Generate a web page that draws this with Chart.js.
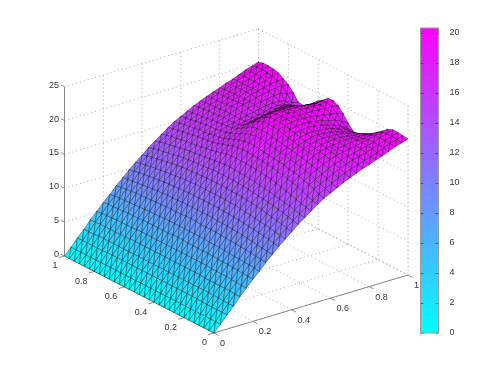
<!DOCTYPE html>
<html>
<head>
<meta charset="utf-8">
<style>
  html, body { margin: 0; padding: 0; background: #fff; }
  #wrap { position: relative; width: 500px; height: 375px; overflow: hidden; }
  canvas { position: absolute; top: 0; }
</style>
<script src="https://cdn.jsdelivr.net/npm/chart.js@4"></script>
</head>
<body>
<div id="wrap">
  <canvas id="surface" width="500" height="375" style="left:0"></canvas>
  <canvas id="colorbar" width="100" height="375" style="left:400px"></canvas>
</div>
<script>
// axis ticks
var xTicks = [0, 0.2, 0.4, 0.6, 0.8, 1];
var yTicks = [0, 0.2, 0.4, 0.6, 0.8, 1];
var zTicks = [0, 5, 10, 15, 20, 25];
var barTicks = [0, 2, 4, 6, 8, 10, 12, 14, 16, 18, 20];
var barMax = 20.33;

// surface heights, one row per x (0..1), one column per y (0..1)
var zRows = [
  [0,0,0,0,0,0,0,0,0,0,0,0,0,0,0,0,0,0,0,0,0,0,0,0,0,0,0,0,0,0,0],
  [1,1,1,1,1,1,1,1,1,1,1,1,1,1,1,1,1,1,1,1,1,1,1,1,1,1,1,1,1,1,1],
  [2.1,2.1,2.1,2.1,2.1,2.1,2.2,2.2,2.2,2.2,2.2,2.2,2.2,2.2,2.2,2.2,2.2,2.2,2.2,2.2,2.2,2.2,2.2,2.2,2.2,2.1,2.1,2.1,2.1,2.1,2.1],
  [3.1,3.1,3.1,3.2,3.2,3.2,3.2,3.2,3.2,3.2,3.2,3.2,3.2,3.2,3.2,3.2,3.2,3.2,3.2,3.2,3.2,3.2,3.2,3.2,3.2,3.2,3.2,3.2,3.1,3.1,3.1],
  [4.2,4.2,4.3,4.3,4.3,4.3,4.3,4.3,4.4,4.4,4.4,4.4,4.4,4.4,4.4,4.4,4.4,4.4,4.4,4.4,4.4,4.4,4.4,4.3,4.3,4.3,4.3,4.3,4.3,4.2,4.2],
  [5.2,5.2,5.3,5.3,5.4,5.4,5.4,5.4,5.5,5.5,5.5,5.5,5.5,5.5,5.5,5.5,5.5,5.5,5.5,5.5,5.5,5.5,5.5,5.4,5.4,5.4,5.4,5.3,5.3,5.2,5.2],
  [6.2,6.3,6.3,6.4,6.4,6.5,6.5,6.5,6.6,6.6,6.6,6.6,6.6,6.6,6.7,6.7,6.7,6.6,6.6,6.6,6.6,6.6,6.6,6.5,6.5,6.5,6.4,6.4,6.3,6.3,6.2],
  [7.1,7.2,7.3,7.3,7.4,7.4,7.5,7.5,7.6,7.6,7.6,7.7,7.7,7.7,7.7,7.7,7.7,7.7,7.7,7.7,7.6,7.6,7.6,7.5,7.5,7.4,7.4,7.3,7.3,7.2,7.1],
  [8.1,8.2,8.3,8.4,8.5,8.5,8.6,8.6,8.7,8.7,8.8,8.8,8.8,8.8,8.9,8.9,8.9,8.8,8.8,8.8,8.8,8.7,8.7,8.6,8.6,8.5,8.5,8.4,8.3,8.2,8.1],
  [9,9.1,9.2,9.3,9.4,9.5,9.6,9.7,9.7,9.8,9.8,9.8,9.9,9.9,9.9,9.9,9.9,9.9,9.9,9.8,9.8,9.8,9.7,9.7,9.6,9.5,9.4,9.3,9.2,9.1,9],
  [9.9,10,10.2,10.3,10.4,10.5,10.6,10.7,10.8,10.8,10.9,10.9,11,11,11,11,11,11,11,10.9,10.9,10.8,10.8,10.7,10.6,10.5,10.4,10.3,10.2,10,9.9],
  [10.7,10.9,11,11.2,11.3,11.4,11.5,11.6,11.7,11.8,11.9,11.9,12,12,12,12,12,12,12,11.9,11.9,11.8,11.7,11.6,11.5,11.4,11.3,11.2,11,10.9,10.7],
  [11.5,11.7,11.9,12,12.2,12.3,12.5,12.6,12.7,12.8,12.8,12.9,12.9,13,13,13,13,13,12.9,12.9,12.8,12.8,12.7,12.6,12.5,12.3,12.2,12,11.9,11.7,11.5],
  [12.3,12.5,12.7,12.9,13,13.2,13.3,13.4,13.5,13.6,13.7,13.8,13.8,13.9,13.9,13.9,13.9,13.9,13.8,13.7,13.7,13.6,13.5,13.4,13.3,13.1,13,12.8,12.7,12.5,12.3],
  [13,13.2,13.4,13.6,13.7,13.9,14,14.2,14.3,14.4,14.5,14.6,14.7,14.7,14.8,14.8,14.8,14.7,14.6,14.5,14.4,14.3,14.2,14.1,14,13.8,13.7,13.5,13.4,13.2,13],
  [13.7,13.9,14.1,14.3,14.6,14.8,15,15.2,15.4,15.5,15.6,15.7,15.7,15.8,15.8,15.8,15.8,15.7,15.5,15.3,15.1,15,14.8,14.7,14.6,14.5,14.4,14.2,14.1,13.9,13.7],
  [14.4,14.6,14.9,15.2,15.5,15.7,15.9,16.1,16.2,16.4,16.5,16.6,16.7,16.7,16.8,16.8,16.7,16.6,16.3,16.1,15.8,15.6,15.5,15.4,15.3,15.2,15,14.9,14.7,14.6,14.4],
  [15,15.3,15.6,15.9,16.1,16.4,16.6,16.7,16.9,17,17.1,17.2,17.3,17.4,17.5,17.5,17.4,17.2,16.9,16.6,16.3,16.1,16,15.8,15.7,15.7,15.5,15.4,15.3,15.1,15],
  [15.5,15.8,16.1,16.4,16.7,16.9,17.1,17.3,17.4,17.6,17.7,17.8,18,18.1,18.2,18.2,18.1,17.8,17.5,17.1,16.8,16.5,16.4,16.2,16.2,16.1,16,15.9,15.7,15.6,15.5],
  [16,16.3,16.6,16.9,17.2,17.4,17.6,17.8,17.9,18.1,18.2,18.3,18.5,18.6,18.8,18.8,18.7,18.5,18.1,17.6,17.2,16.9,16.8,16.7,16.6,16.5,16.4,16.3,16.2,16.1,16],
  [16.5,16.8,17.1,17.4,17.7,17.9,18.1,18.3,18.4,18.6,18.7,18.9,19.1,19.3,19.4,19.4,19.4,19.1,18.6,18,17.4,17.1,17,17,17,16.9,16.8,16.8,16.7,16.6,16.5],
  [16.9,17.2,17.5,17.8,18.1,18.3,18.5,18.6,18.8,18.9,19.1,19.3,19.5,19.7,19.8,19.8,19.8,19.4,18.9,18.2,17.6,17.3,17.3,17.3,17.3,17.3,17.2,17.1,17.1,17,16.9],
  [17.3,17.6,17.9,18.1,18.4,18.6,18.7,18.9,19,19.2,19.3,19.5,19.7,19.9,20,20,20,19.7,19.1,18.4,17.8,17.5,17.5,17.6,17.7,17.7,17.6,17.5,17.4,17.4,17.3],
  [17.7,17.9,18.2,18.4,18.6,18.8,18.9,19,19.2,19.3,19.4,19.6,19.8,20,20.1,20.2,20.1,19.8,19.3,18.6,18,17.7,17.7,17.9,18.1,18,18,17.9,17.8,17.8,17.7],
  [18,18.2,18.4,18.6,18.8,18.9,19,19.1,19.1,19.2,19.3,19.5,19.7,19.9,20,20.1,20.1,19.8,19.3,18.7,18.2,17.9,17.9,18.1,18.2,18.2,18.2,18.2,18.1,18.1,18],
  [18.4,18.5,18.7,18.9,19,19.1,19.1,19.1,19.1,19.1,19.2,19.4,19.6,19.9,20,20.2,20.1,19.8,19.4,18.9,18.4,18.1,18.1,18.3,18.5,18.6,18.6,18.6,18.5,18.5,18.4],
  [18.7,18.8,19,19.1,19.2,19.2,19.1,19,19,18.9,19,19.1,19.4,19.7,20,20.1,20.1,19.7,19.3,18.9,18.5,18.2,18.2,18.4,18.7,18.8,18.8,18.8,18.8,18.8,18.7],
  [19.1,19.2,19.3,19.3,19.3,19.1,19,18.8,18.7,18.6,18.6,18.8,19.1,19.6,19.9,20.1,19.9,19.4,19,18.6,18.3,18.1,18.2,18.6,18.9,19,19.2,19.2,19.2,19.2,19.1],
  [19.5,19.6,19.7,19.7,19.6,19.3,19,18.8,18.5,18.3,18.3,18.4,18.9,19.4,19.9,20,19.8,19.3,18.8,18.4,18,17.7,17.9,18.7,19.1,19.3,19.5,19.6,19.6,19.6,19.5],
  [19.8,19.9,20,20,19.8,19.4,18.9,18.5,18.1,17.8,17.6,17.8,18.4,19.2,19.8,20.1,19.9,19.2,18.7,18.1,17.6,17.2,17.4,18.3,19.1,19.4,19.8,19.9,20,20,19.8],
  [20.1,20.2,20.3,20.3,20,19.4,18.7,18.1,17.6,17.1,16.9,17.1,17.9,18.9,19.7,20.1,20,19.4,18.9,18.2,17.6,17.1,17.2,18.2,19,19.5,20,20.2,20.3,20.3,20.1]
];

var n = zRows.length - 1;

// fixed view of the box, orthographic
function project(x, y, z) {
  return { x: 214 + 194 * x - 149.5 * y, y: 333 - 58 * x - 77 * y - 6.77 * z };
}

function cool(z) {
  var t = Math.min(1, z / barMax);
  return 'rgb(' + Math.round(255 * t) + ',' + Math.round(255 * (1 - t)) + ',255)';
}

function tri(a, b, c) {
  var pts = [a, b, c, a].map(function (p) { return project(p[0], p[1], p[2]); });
  return {
    data: pts,
    showLine: true,
    fill: 'shape',
    backgroundColor: cool((a[2] + b[2] + c[2]) / 3),
    borderColor: 'rgba(0,0,0,0.7)',
    borderWidth: 0.5,
    pointRadius: 0,
    tension: 0
  };
}

function seg(a, b, dotted) {
  return {
    data: [project(a[0], a[1], a[2]), project(b[0], b[1], b[2])],
    showLine: true,
    fill: false,
    borderColor: dotted ? '#aaa' : '#888',
    borderWidth: 1,
    borderDash: dotted ? [1, 3] : [],
    pointRadius: 0
  };
}

var datasets = [];

// chart.js paints the first dataset last, so front triangles go first
for (var i = 0; i < n; i++) {
  for (var j = 0; j < n; j++) {
    var p00 = [i / n, j / n, zRows[i][j]];
    var p10 = [(i + 1) / n, j / n, zRows[i + 1][j]];
    var p01 = [i / n, (j + 1) / n, zRows[i][j + 1]];
    var p11 = [(i + 1) / n, (j + 1) / n, zRows[i + 1][j + 1]];
    datasets.push(tri(p00, p10, p11));
    datasets.push(tri(p00, p11, p01));
  }
}

// solid axes and tick marks
datasets.push(seg([0, 0, 0], [1, 0, 0]));
datasets.push(seg([0, 0, 0], [0, 1, 0]));
datasets.push(seg([0, 1, 0], [0, 1, 25]));
xTicks.forEach(function (t) { datasets.push(seg([t, 0, 0], [t, -0.03, 0])); });
yTicks.forEach(function (t) { datasets.push(seg([0, t, 0], [-0.03, t, 0])); });
zTicks.forEach(function (t) { datasets.push(seg([0, 1, t], [0, 1.025, t])); });

// dotted grid on the floor and the two back walls
xTicks.forEach(function (t) {
  datasets.push(seg([t, 0, 0], [t, 1, 0], true));
  datasets.push(seg([t, 1, 0], [t, 1, 25], true));
});
yTicks.forEach(function (t) {
  datasets.push(seg([0, t, 0], [1, t, 0], true));
  datasets.push(seg([1, t, 0], [1, t, 25], true));
});
zTicks.forEach(function (t) {
  datasets.push(seg([0, 1, t], [1, 1, t], true));
  datasets.push(seg([1, 1, t], [1, 0, t], true));
});

var tickLabels = {
  id: 'tickLabels',
  afterDatasetsDraw: function (chart) {
    var c = chart.ctx, sx = chart.scales.x, sy = chart.scales.y;
    function put(text, p, dx, dy, align) {
      c.textAlign = align;
      c.fillText(text, sx.getPixelForValue(p.x) + dx, sy.getPixelForValue(p.y) + dy);
    }
    c.save();
    c.font = '9px "Liberation Sans"';
    c.fillStyle = '#333';
    c.textBaseline = 'middle';
    xTicks.forEach(function (t) { put(String(t), project(t, 0, 0), 6, 10.5, 'left'); });
    yTicks.forEach(function (t) { put(String(t), project(0, t, 0), -7, 10, 'right'); });
    zTicks.forEach(function (t) { put(String(t), project(0, 1, t), -5.5, -1.5, 'right'); });
    c.restore();
  }
};

new Chart(document.getElementById('surface'), {
  type: 'scatter',
  data: { datasets: datasets },
  options: {
    responsive: false,
    animation: false,
    layout: { padding: 0 },
    plugins: { legend: { display: false }, tooltip: { enabled: false } },
    scales: {
      x: { type: 'linear', min: 0, max: 500, display: false },
      y: { type: 'linear', min: 0, max: 375, reverse: true, display: false }
    }
  },
  plugins: [tickLabels]
});

var barFrame = {
  id: 'barFrame',
  afterDatasetsDraw: function (chart) {
    var c = chart.ctx, a = chart.chartArea, sy = chart.scales.y;
    c.save();
    c.lineWidth = 1;
    c.strokeStyle = 'rgba(0,0,0,0.45)';
    barTicks.forEach(function (t) {
      var py = Math.round(sy.getPixelForValue(t)) + 0.5;
      c.beginPath();
      c.moveTo(a.left, py); c.lineTo(a.left + 3, py);
      c.moveTo(a.right - 3, py); c.lineTo(a.right, py);
      c.stroke();
    });
    c.strokeStyle = '#999';
    c.strokeRect(a.left, a.top, a.right - a.left, a.bottom - a.top);
    c.restore();
  }
};

new Chart(document.getElementById('colorbar'), {
  type: 'bar',
  data: {
    labels: [''],
    datasets: [{
      data: [[0, barMax]],
      barPercentage: 1,
      categoryPercentage: 1,
      backgroundColor: function (ctx) {
        var a = ctx.chart.chartArea;
        if (!a) return '#fff';
        var g = ctx.chart.ctx.createLinearGradient(0, a.bottom, 0, a.top);
        g.addColorStop(0, 'rgb(0,255,255)');
        g.addColorStop(1, 'rgb(255,0,255)');
        return g;
      }
    }]
  },
  options: {
    responsive: false,
    animation: false,
    layout: { padding: { left: 20.5, top: 28, bottom: 42, right: 0 } },
    plugins: { legend: { display: false }, tooltip: { enabled: false } },
    scales: {
      x: { display: false },
      y: {
        position: 'right',
        min: 0,
        max: barMax,
        grid: { display: false },
        border: { display: false },
        afterFit: function (scale) { scale.width = 61.5; },
        ticks: {
          stepSize: 2,
          includeBounds: false,
          padding: 3,
          color: '#333',
          font: { family: '"Liberation Sans"', size: 9 }
        }
      }
    }
  },
  plugins: [barFrame]
});
</script>
</body>
</html>
